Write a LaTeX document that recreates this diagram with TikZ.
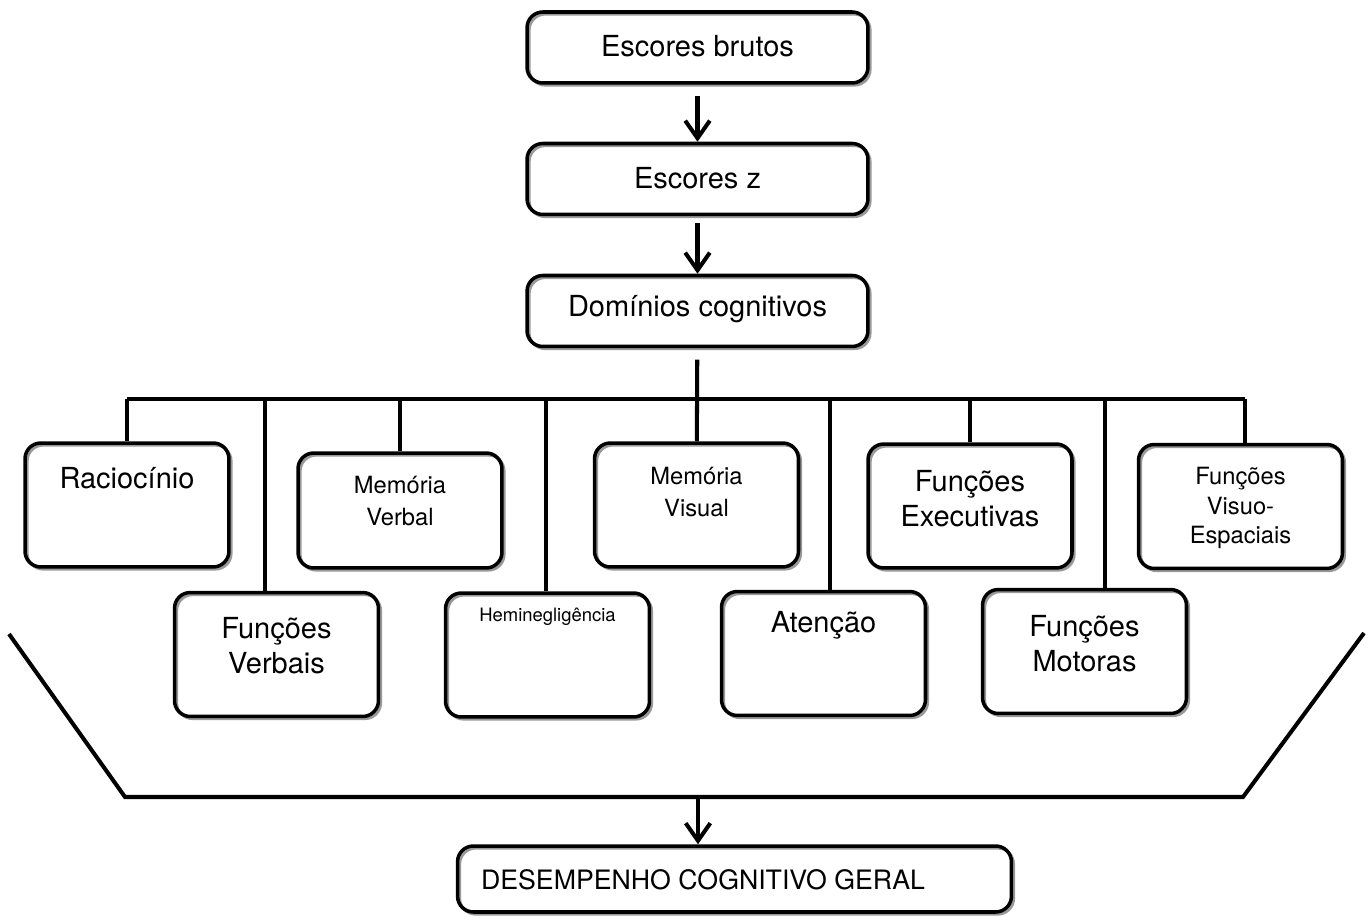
\documentclass[tikz,border=0pt]{standalone}
\usepackage{fontspec}
\setmainfont{TeX Gyre Heros}
\usepackage{tikz}
\usetikzlibrary{arrows.meta,shadows}

\begin{document}
\begin{tikzpicture}[
  x=0.02cm,y=-0.02cm,
  box/.style={draw=black,line width=2pt,rounded corners=9pt,inner sep=0pt,
    general shadow={draw=black!40,line width=1.5pt,shadow xshift=1.3pt,shadow yshift=-1.3pt}},
  wide/.style={box,minimum width=6.82cm,minimum height=1.42cm},
  dom/.style={box,minimum width=4.08cm,minimum height=2.48cm},
  lnk/.style={draw=black,line width=2.3pt},
  arr/.style={lnk,-{Straight Barb[length=10pt,width=14pt]}},
  big/.style={font=\fontsize{16.5}{20}\selectfont,align=center},
  mid/.style={font=\fontsize{13.5}{18}\selectfont,align=center},
  small/.style={font=\fontsize{10.5}{12.5}\selectfont,align=center},
]
\useasboundingbox (0,0) rectangle (1368,918);

\node[wide] (brutos) at (697.5,47.5) {};
\node[big] (brutos-t) at (697.5,46) {Escores brutos};
\node[wide] (escz) at (697.5,179) {};
\node[big] (escz-t) at (697.5,178) {Escores z};
\node[wide] (dominios) at (697.5,311) {};
\node[big] (dominios-t) at (697.5,309) {Domínios cognitivos};

\node[dom] (racio) at (127,505) {};
\node[big] (racio-t) at (127,478) {Raciocínio};
\node[dom,minimum height=2.3cm] (memverb) at (400,510.5) {};
\node[mid] (memverb-t) at (400,501) {Memória\\Verbal};
\node[dom] (memvis) at (696.5,505) {};
\node[mid] (memvis-t) at (696.5,492) {Memória\\Visual};
\node[dom] (funcex) at (970,506) {};
\node[big] (funcex-t) at (970,498.5) {Funções\\Executivas};
\node[dom] (visuo) at (1240.5,506.5) {};
\node[mid,font=\fontsize{13.5}{17}\selectfont] (visuo-t) at (1240.5,508) {Funções\\Visuo-\\Espaciais};

\node[dom] (funcverb) at (276.5,654.5) {};
\node[big] (funcverb-t) at (276.5,646) {Funções\\Verbais};
\node[dom] (hemin) at (547.5,655) {};
\node[small] (hemin-t) at (547.5,617) {Heminegligência};
\node[dom] (atencao) at (823.5,653.5) {};
\node[big] (atencao-t) at (823.5,625) {Atenção};
\node[dom] (funcmot) at (1084.5,651.5) {};
\node[big] (funcmot-t) at (1084.5,643.5) {Funções\\Motoras};

\node[box,minimum width=11.08cm,minimum height=1.32cm] (desemp) at (734.5,879) {};
\node[big,font=\fontsize{15.2}{18}\selectfont] (desemp-t) at (703,880) {DESEMPENHO COGNITIVO GERAL};

\draw[arr,shorten <=6.5pt] (brutos) -- (escz);
\draw[arr,shorten <=4pt] (escz) -- (dominios);
\draw[lnk,shorten <=6.5pt] (dominios) -- (memvis);

\coordinate (b1) at (127,399);
\coordinate (b2) at (265,399);
\coordinate (b3) at (400,399);
\coordinate (b4) at (546,399);
\coordinate (b6) at (830,399);
\coordinate (b7) at (970,399);
\coordinate (b8) at (1105,399);
\coordinate (b9) at (1245,399);
\draw[lnk] (b1) -- (b9);
\draw[lnk] (b1) -- (b1 |- racio.north);
\draw[lnk] (b2) -- (b2 |- funcverb.north);
\draw[lnk] (b3) -- (b3 |- memverb.north);
\draw[lnk] (b4) -- (b4 |- hemin.north);
\draw[lnk] (b6) -- (b6 |- atencao.north);
\draw[lnk] (b7) -- (b7 |- funcex.north);
\draw[lnk] (b8) -- (b8 |- funcmot.north);
\draw[lnk] (b9) -- (b9 |- visuo.north);

\coordinate (tl) at (9,634);
\coordinate (bl) at (125,797);
\coordinate (br) at (1243,797);
\coordinate (tr) at (1364,633);
\coordinate (bm) at (698,797);
\draw[lnk] (tl) -- (bl) -- (br) -- (tr);
\draw[arr] (bm) -- (bm |- desemp.north);
\end{tikzpicture}
\end{document}
